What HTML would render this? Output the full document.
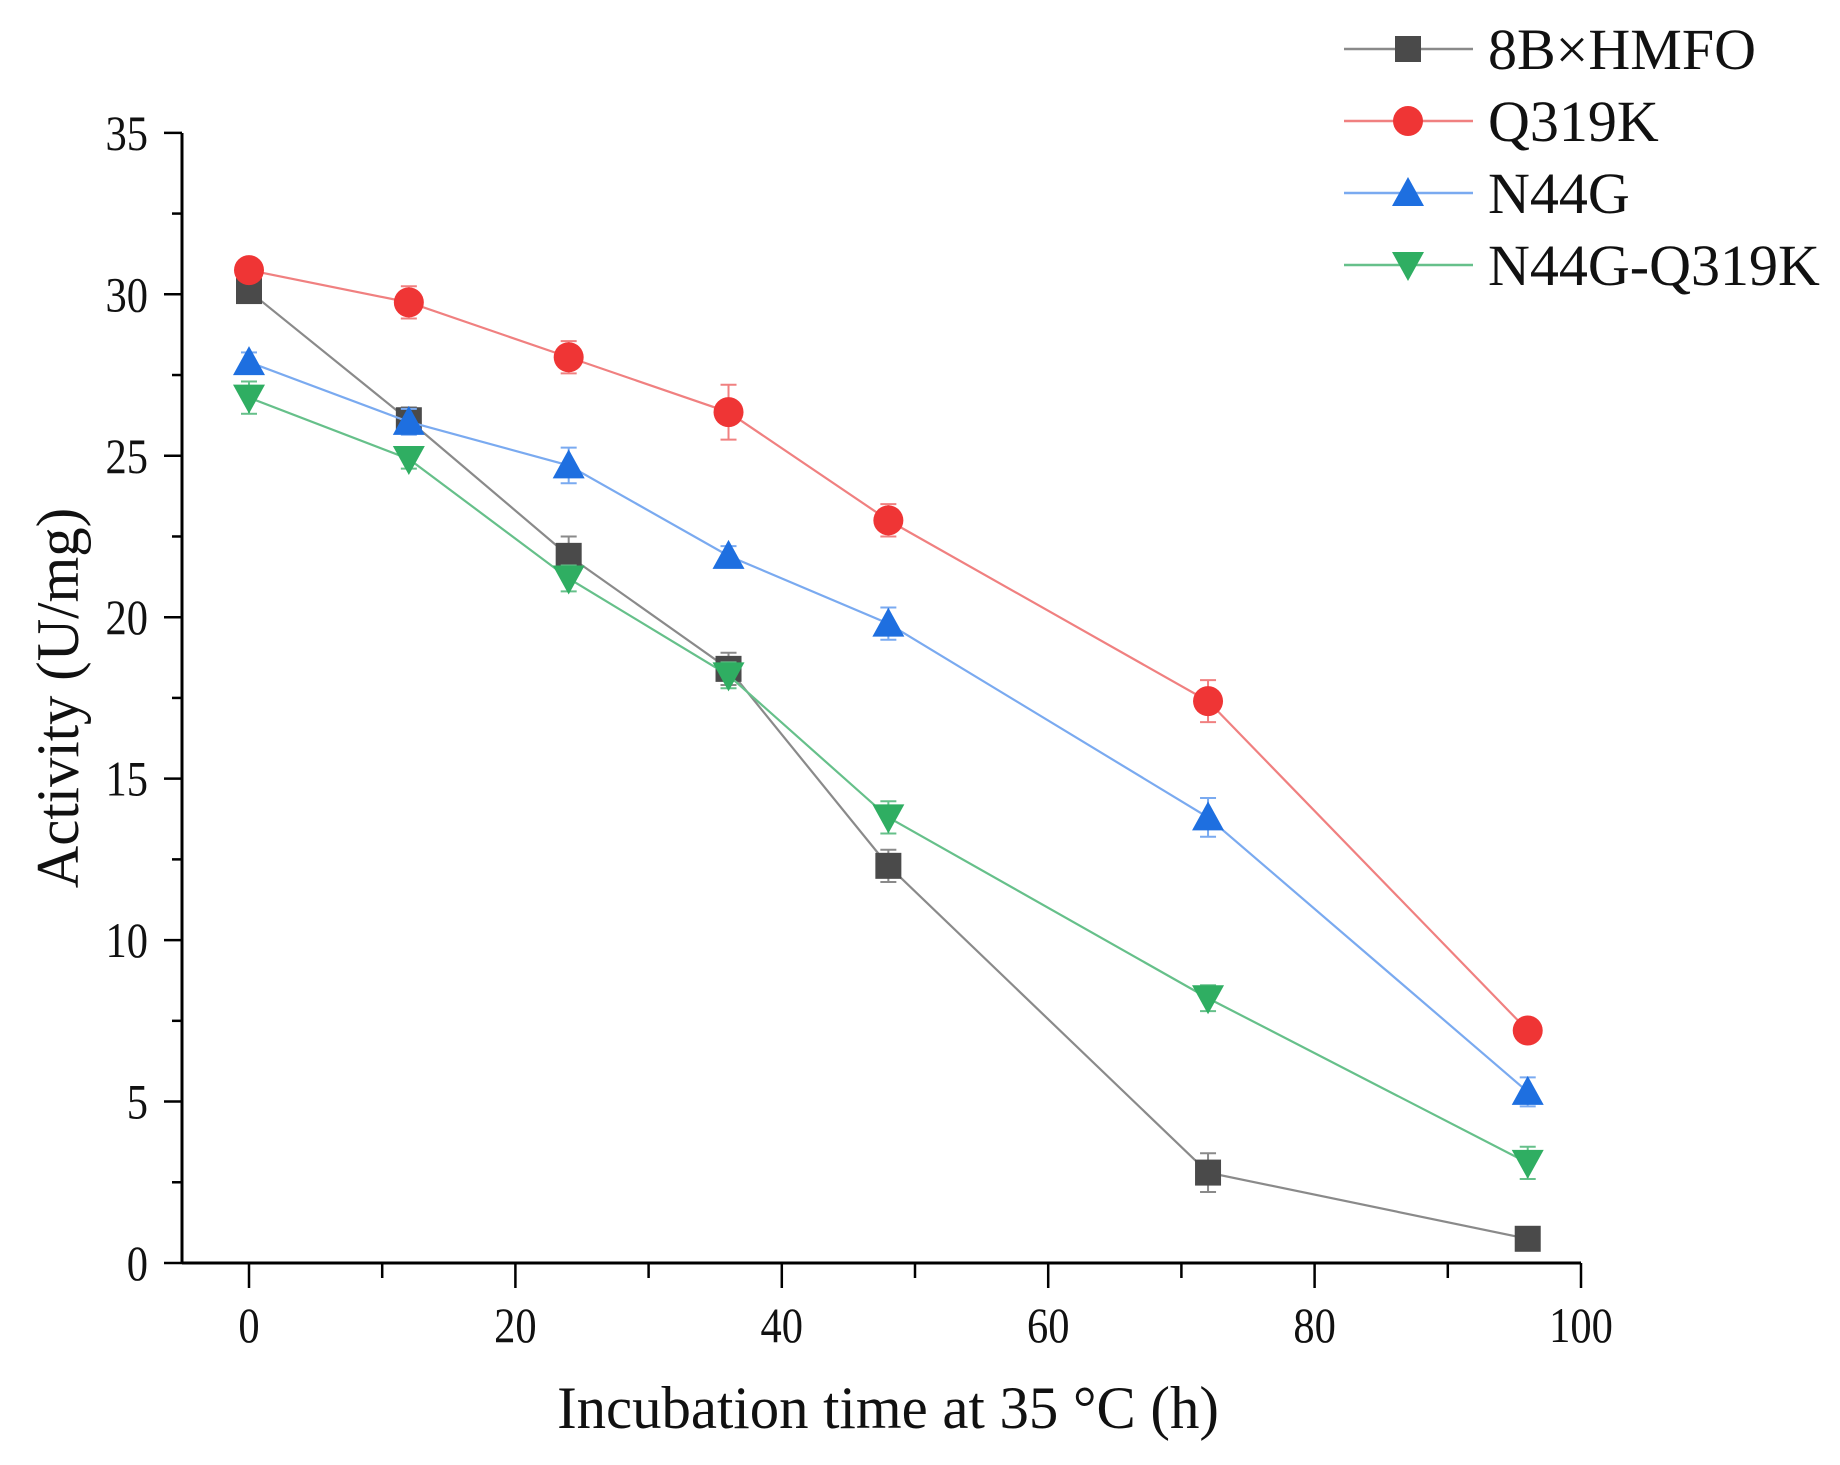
<!DOCTYPE html>
<html><head><meta charset="utf-8"><style>
body{margin:0;background:#fff}
svg text{font-family:"Liberation Serif",serif;fill:#111}
</style></head><body>
<svg id="s" width="1840" height="1460" xmlns="http://www.w3.org/2000/svg"></svg>
<script>
const s=document.getElementById('s');
const X=v=>249+v*13.32, Y=v=>1263-v*32.29;
let h='';
h+=`<line x1="182" y1="1263" x2="1581" y2="1263" stroke="#000" stroke-width="3"/>`;
h+=`<line x1="182" y1="133" x2="182" y2="1263" stroke="#000" stroke-width="3"/>`;
for(let v=0;v<=100;v+=10){const x=X(v);h+=`<line x1="${x}" y1="1263" x2="${x}" y2="${v%20==0?1288:1278}" stroke="#000" stroke-width="2.5"/>`;
 if(v%20==0)h+=`<text transform="translate(${x},1342) scale(0.85,1)" font-size="50" text-anchor="middle">${v}</text>`;}
for(let v=0;v<=35;v+=2.5){const y=Y(v);h+=`<line x1="${v%5==0?164:172}" y1="${y}" x2="182" y2="${y}" stroke="#000" stroke-width="2.5"/>`;
 if(v%5==0)h+=`<text transform="translate(148,${y+17}) scale(0.85,1)" font-size="50" text-anchor="end">${v}</text>`;}
h+=`<text transform="translate(888,1428) scale(0.98,1)" font-size="60" text-anchor="middle">Incubation time at 35 °C (h)</text>`;
h+=`<text transform="translate(78,698) rotate(-90) scale(0.98,1)" font-size="60" text-anchor="middle">Activity (U/mg)</text>`;
const xs=[0,12,24,36,48,72,96];
const S=[
 {n:'8B×HMFO',lc:'#8a8a8a',mc:'#4a4a4a',m:'sq',d:[30.1,26.1,21.9,18.4,12.3,2.8,0.75],e:[.3,.4,.6,.5,.5,.6,.35]},
 {n:'Q319K',lc:'#f08080',mc:'#ef3535',m:'ci',d:[30.75,29.75,28.05,26.35,23.0,17.4,7.2],e:[.3,.5,.5,.85,.5,.65,.2]},
 {n:'N44G',lc:'#7aaaf0',mc:'#1e6fe0',m:'up',d:[27.9,26.05,24.7,21.9,19.8,13.8,5.3],e:[.3,.4,.55,.3,.5,.6,.45]},
 {n:'N44G-Q319K',lc:'#66c08a',mc:'#2fae62',m:'dn',d:[26.8,24.9,21.2,18.2,13.8,8.2,3.1],e:[.5,.3,.4,.4,.5,.4,.5]}];
function mk(t,x,y,c){
 if(t=='sq')return `<rect x="${x-13}" y="${y-13}" width="26" height="26" fill="${c}"/>`;
 if(t=='ci')return `<circle cx="${x}" cy="${y}" r="15" fill="${c}"/>`;
 if(t=='up')return `<polygon points="${x},${y-16} ${x-16},${y+13} ${x+16},${y+13}" fill="${c}"/>`;
 return `<polygon points="${x},${y+16} ${x-16},${y-13} ${x+16},${y-13}" fill="${c}"/>`;}
S.forEach(o=>{
 h+=`<polyline fill="none" stroke="${o.lc}" stroke-width="2.2" points="${xs.map((v,i)=>X(v)+','+Y(o.d[i])).join(' ')}"/>`;
 xs.forEach((v,i)=>{const x=X(v),y1=Y(o.d[i]-o.e[i]),y2=Y(o.d[i]+o.e[i]);
  h+=`<line x1="${x}" y1="${y1}" x2="${x}" y2="${y2}" stroke="${o.lc}" stroke-width="2"/><line x1="${x-8}" y1="${y1}" x2="${x+8}" y2="${y1}" stroke="${o.lc}" stroke-width="2"/><line x1="${x-8}" y1="${y2}" x2="${x+8}" y2="${y2}" stroke="${o.lc}" stroke-width="2"/>`;});
 xs.forEach((v,i)=>{h+=mk(o.m,X(v),Y(o.d[i]),o.mc);});
});
[49,121,193,265].forEach((y,i)=>{const o=S[i];
 h+=`<line x1="1344" y1="${y}" x2="1473" y2="${y}" stroke="${o.lc}" stroke-width="2.5"/>`+mk(o.m,1408,y,o.mc);
 h+=`<text x="1488" y="${y+20}" font-size="58">${o.n}</text>`;});
s.innerHTML=h;
</script>
</body></html>
